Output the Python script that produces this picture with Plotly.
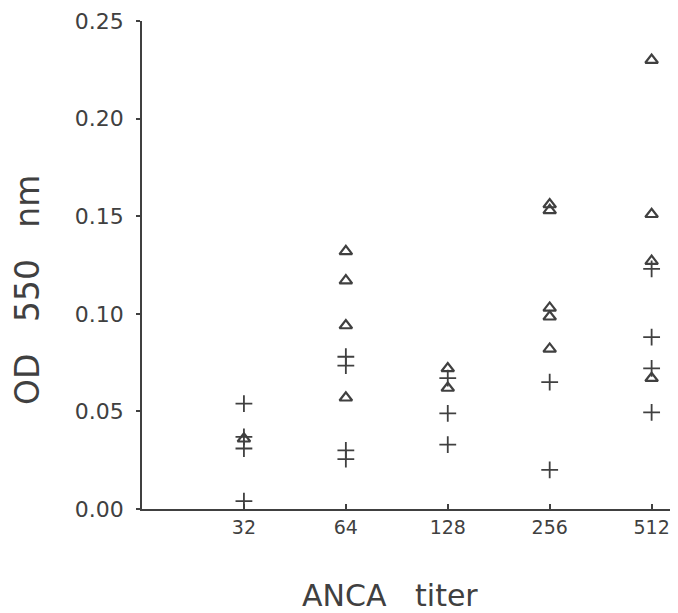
import plotly.graph_objects as go

titers = ["32", "64", "128", "256", "512"]

# triangle (open) series: titer, OD
tri_x = ["32", "64", "64", "64", "64", "128", "128",
         "256", "256", "256", "256", "256",
         "512", "512", "512", "512"]
tri_y = [0.036, 0.132, 0.117, 0.094, 0.057, 0.072, 0.062,
         0.156, 0.153, 0.103, 0.0985, 0.082,
         0.230, 0.151, 0.127, 0.067]

# plus series
plus_x = ["32", "32", "32", "32", "64", "64", "64", "64",
          "128", "128", "128", "256", "256",
          "512", "512", "512", "512"]
plus_y = [0.054, 0.037, 0.031, 0.004, 0.078, 0.0735, 0.030, 0.0255,
          0.067, 0.049, 0.033, 0.065, 0.020,
          0.123, 0.088, 0.072, 0.0495]

y_ticks = [0.00, 0.05, 0.10, 0.15, 0.20, 0.25]
y_tick_text = ["0.00", "0.05", "0.10", "0.15", "0.20", "0.25"]

x_title = "ANCA   titer"
y_title = "OD   550   nm"

pos = {t: i + 1 for i, t in enumerate(titers)}
ink = "#404040"
fnt = "DejaVu Sans, Verdana, sans-serif"

fig = go.Figure()
fig.add_trace(go.Scatter(
    x=[pos[t] for t in tri_x], y=tri_y, mode="markers",
    marker=dict(symbol="triangle-up-open", size=11, color=ink,
                line=dict(width=2.2, color=ink)),
    showlegend=False))
fig.add_trace(go.Scatter(
    x=[pos[t] for t in plus_x], y=plus_y, mode="markers",
    marker=dict(symbol="cross-thin-open", size=12, color=ink,
                line=dict(width=1.8, color=ink)),
    showlegend=False))

# page body has an 8px margin, so the figure is sized to fit the window
fig.update_layout(
    width=670, height=605,
    margin=dict(l=134, r=6, t=13, b=104),
    paper_bgcolor="white", plot_bgcolor="white",
    font=dict(family=fnt, color=ink),
    xaxis=dict(
        range=[0, 5.2], tickmode="array",
        tickvals=[pos[t] for t in titers], ticktext=titers,
        ticks="inside", ticklen=5, tickwidth=1.5, tickcolor=ink,
        showline=True, linecolor=ink, linewidth=1.8,
        showgrid=False, zeroline=False, automargin=False,
        ticklabeloverflow="allow",
        tickfont=dict(size=19, color=ink, family=fnt),
    ),
    yaxis=dict(
        range=[0, 0.25], tickmode="array",
        tickvals=y_ticks, ticktext=y_tick_text,
        ticks="outside", ticklen=4, tickwidth=1.5, tickcolor=ink,
        ticklabelstandoff=8, ticklabeloverflow="allow",
        showline=True, linecolor=ink, linewidth=1.8,
        showgrid=False, zeroline=False, automargin=False,
        tickfont=dict(size=22, color=ink, family=fnt),
    ),
    annotations=[
        dict(text=x_title, xref="paper", yref="paper", x=0.468, y=-0.178,
             xanchor="center", yanchor="middle", showarrow=False,
             font=dict(size=30, color=ink, family=fnt)),
        dict(text=y_title, xref="paper", yref="paper", x=-0.215, y=0.449,
             xanchor="center", yanchor="middle", showarrow=False, textangle=-90,
             font=dict(size=33, color=ink, family=fnt)),
    ],
)

fig.write_html("out.html")
